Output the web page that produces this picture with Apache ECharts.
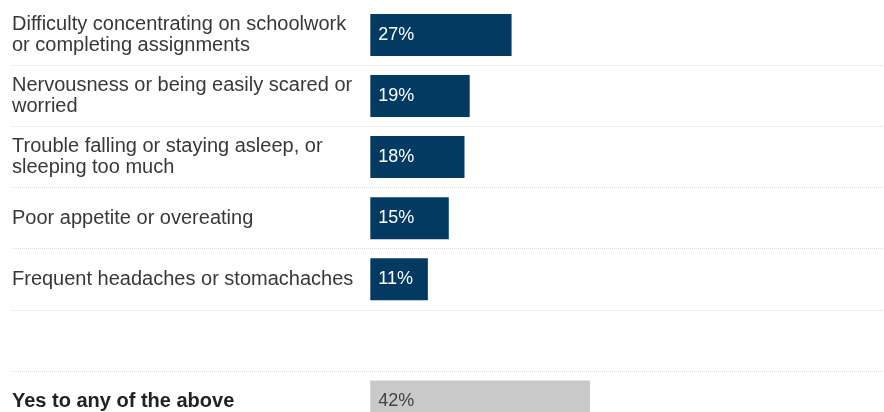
<!DOCTYPE html>
<html>
<head>
<meta charset="utf-8">
<script src="https://cdn.jsdelivr.net/npm/echarts@6/dist/echarts.min.js"></script>
<style>
  html, body { margin: 0; padding: 0; background: #ffffff; }
  #chart { width: 884px; height: 412px; }
</style>
</head>
<body>
<div id="chart"></div>
<script>
// ---- data ----
const categories = [
  "Difficulty concentrating on schoolwork\nor completing assignments",
  "Nervousness or being easily scared or\nworried",
  "Trouble falling or staying asleep, or\nsleeping too much",
  "Poor appetite or overeating",
  "Frequent headaches or stomachaches",
  "",
  "Yes to any of the above"
];
const values = [27, 19, 18, 15, 11, null, 42];
const summaryIndex = 6;

// ---- chart ----
const chart = echarts.init(document.getElementById('chart'), null, { renderer: 'canvas' });

const yData = categories.map((c, i) => i === summaryIndex
  ? { value: c, textStyle: { fontWeight: 'bold', color: '#222222' } }
  : c);

const barData = values.map((v, i) => {
  if (v === null) return '-';
  const summary = i === summaryIndex;
  return {
    value: v,
    itemStyle: { color: summary ? '#c9c9c9' : '#023a62' },
    label: { color: summary ? '#444444' : '#ffffff' }
  };
});

chart.setOption({
  animation: false,
  backgroundColor: '#ffffff',
  grid: {
    left: 12, right: 0, top: 4.35, height: 427.7,
    containLabel: false,
    outerBoundsMode: 'none'
  },
  xAxis: {
    type: 'value',
    min: -68.5,
    max: 98.2,
    axisLine: { show: false },
    axisTick: { show: false },
    axisLabel: { show: false },
    splitLine: { show: false }
  },
  yAxis: {
    type: 'category',
    inverse: true,
    data: yData,
    axisLine: { show: false, onZero: false },
    axisTick: { show: false },
    axisLabel: {
      inside: true,
      margin: 0,
      align: 'left',
      verticalAlign: 'middle',
      fontFamily: 'Liberation Sans, Arial, sans-serif',
      fontSize: 20,
      lineHeight: 21,
      color: '#383838'
    },
    splitLine: {
      show: true,
      showMinLine: false,
      lineStyle: { color: '#dadada', width: 1, type: [1, 1] }
    }
  },
  series: [{
    type: 'bar',
    data: barData,
    barWidth: 42,
    label: {
      show: true,
      position: 'insideLeft',
      distance: 8,
      formatter: '{c}%',
      fontFamily: 'Liberation Sans, Arial, sans-serif',
      fontSize: 18
    }
  }]
});
</script>
</body>
</html>
